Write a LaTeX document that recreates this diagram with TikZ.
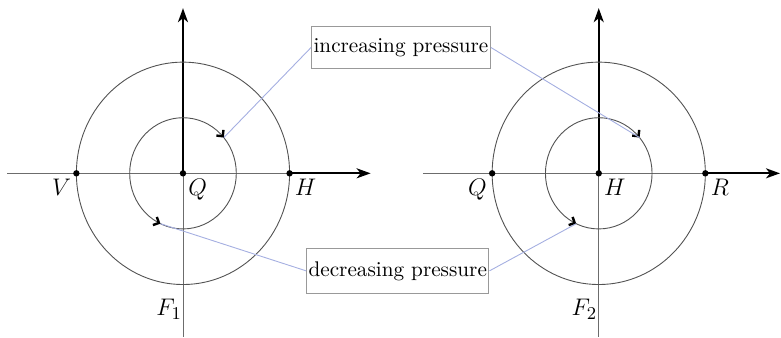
\documentclass[tikz,border=0pt]{standalone}
\usetikzlibrary{arrows.meta,positioning}
\definecolor{pointblue}{RGB}{165,175,225}
\tikzset{
  axis/.style={gray!85!black, line width=0.4pt},
  thickarrow/.style={black, line width=1pt, -{Stealth[length=7pt,width=5pt,inset=2pt]}},
  ring/.style={gray!65!black, line width=0.45pt},
  barb/.style={black, line width=0.4pt, -{Straight Barb[angle=90:3.2pt, line width=1.2pt]}},
  pointer/.style={pointblue, line width=0.45pt},
  tag/.style={draw=gray!80, line width=0.5pt, inner xsep=1pt, minimum height=20.8pt},
  pointlabel/.style={font=\fontsize{12.5}{14}\selectfont, inner sep=2.5pt},
}
\begin{document}
\begin{tikzpicture}[x=26.65pt, y=27.8pt, font=\fontsize{10.6}{12}\selectfont]
  \useasboundingbox (-3.433,-2.944) rectangle (11.219,3.117);
  % levy obrazek
  \coordinate (Q1) at (0,0);
  \coordinate (V1) at (-2,0);
  \coordinate (H1) at (2,0);
  \coordinate (W1) at (-3.3,0);
  \coordinate (E1) at (3.52,0);
  \coordinate (N1) at (0,2.97);
  \coordinate (S1) at (0,-2.944);
  \draw[axis] (W1) -- (H1);
  \draw[axis] (Q1) -- (S1);
  \draw[thickarrow] (Q1) -- (N1);
  \draw[thickarrow] (H1) -- (E1);
  \draw[ring] (Q1) circle[radius=2];
  \draw[ring] (Q1) circle[radius=1];
  \foreach \p in {Q1,V1,H1} \fill (\p) circle[radius=1.6pt];
  \path (Q1) ++(40:1) coordinate (up1);
  \path (Q1) ++(245:1) coordinate (lo1);
  \draw[barb] (Q1) ++(43:1) arc[start angle=43, end angle=40, radius=1];
  \draw[barb] (Q1) ++(242:1) arc[start angle=242, end angle=245, radius=1];
  \node[pointlabel, below left=0pt of V1] (lV1) {$V$};
  \node[pointlabel, below right=0pt of Q1] (lQ1) {$Q$};
  \node[pointlabel, below right=0pt of H1] (lH1) {$H$};
  \node[pointlabel] (F1) at (-0.26,-2.45) {$F_1$};

  % pravy obrazek
  \coordinate (H2) at (7.8,0);
  \coordinate (Q2) at (5.8,0);
  \coordinate (R2) at (9.8,0);
  \coordinate (W2) at (4.5,0);
  \coordinate (E2) at (11.2,0);
  \coordinate (N2) at (7.8,2.97);
  \coordinate (S2) at (7.8,-2.944);
  \draw[axis] (W2) -- (R2);
  \draw[axis] (H2) -- (S2);
  \draw[thickarrow] (H2) -- (N2);
  \draw[thickarrow] (R2) -- (E2);
  \draw[ring] (H2) circle[radius=2];
  \draw[ring] (H2) circle[radius=1];
  \foreach \p in {H2,Q2,R2} \fill (\p) circle[radius=1.6pt];
  \path (H2) ++(40:1) coordinate (up2);
  \path (H2) ++(245:1) coordinate (lo2);
  \draw[barb] (H2) ++(43:1) arc[start angle=43, end angle=40, radius=1];
  \draw[barb] (H2) ++(242:1) arc[start angle=242, end angle=245, radius=1];
  \node[pointlabel, below left=0pt of Q2] (lQ2) {$Q$};
  \node[pointlabel, below right=0pt of H2] (lH2) {$H$};
  \node[pointlabel, below right=0pt of R2] (lR2) {$R$};
  \node[pointlabel] (F2) at (7.53,-2.45) {$F_2$};

  % popisky
  \node[tag] (inc) at (4.09,2.263) {increasing pressure};
  \node[tag, minimum height=22.5pt] (dec) at (4.03,-1.754) {decreasing pressure};
  \draw[pointer] (inc.west) -- (up1);
  \draw[pointer] (inc.east) -- (up2);
  \draw[pointer] (dec.west) -- (lo1);
  \draw[pointer] (dec.east) -- (lo2);
\end{tikzpicture}
\end{document}
